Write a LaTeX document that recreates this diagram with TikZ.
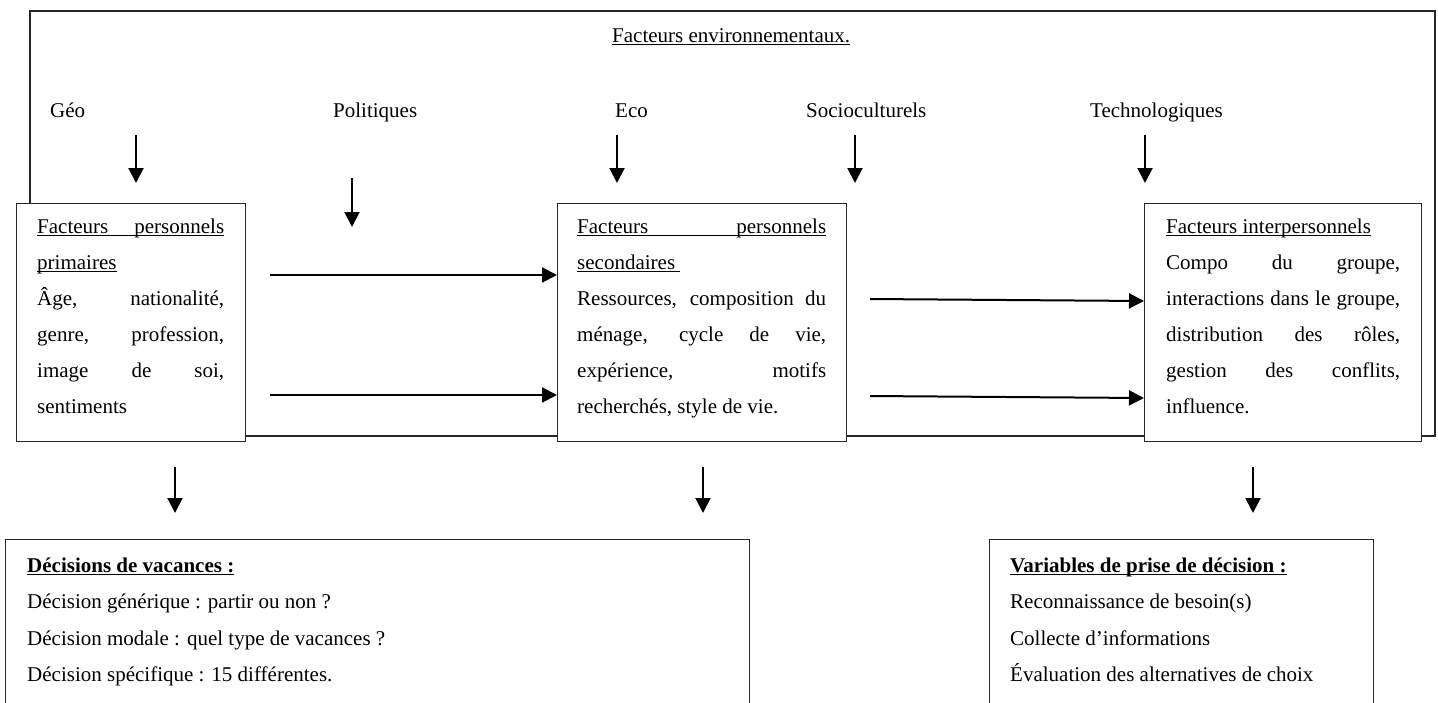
\documentclass[tikz,border=0pt]{standalone}
\usepackage{fontspec}
\setmainfont{Liberation Serif}
\usetikzlibrary{arrows.meta}
\newcommand\myul[1]{\leavevmode\setbox0\hbox{#1}\rlap{\rule[-3.2pt]{\wd0}{1.1pt}}\box0}
\newcommand\jl[1]{\makebox[\linewidth][s]{#1}}
\newcommand\bodyfont{\fontsize{21}{36}\selectfont}
\begin{document}
\begin{tikzpicture}[x=1pt,y=-1pt,
  boxst/.style={draw=black!85, line width=1.2pt, fill=white, inner sep=0pt, anchor=north west},
  arr/.style={-{Triangle[width=15pt,length=15pt]}, line width=2pt},
  txt/.style={anchor=base west, inner sep=0pt, font=\bodyfont}]
\useasboundingbox (0,0) rectangle (1438,702);
\clip (0,0) rectangle (1438,702);

% environment frame
\draw[draw=black!85, line width=1.2pt] (30,11) rectangle (1435,436);

\node[txt] (ET) at (612,42) {\myul{Facteurs environnementaux.}};
\node[txt] (Lgeo) at (50,117) {Géo};
\node[txt] (Lpol) at (333,117) {Politiques};
\node[txt] (Leco) at (615,117) {Eco};
\node[txt] (Lsoc) at (806,117) {Socioculturels};
\node[txt] (Ltec) at (1090,117) {Technologiques};

% boxes
\node[boxst, minimum width=229pt, minimum height=238pt] (B1) at (16,203) {};
\node[boxst, minimum width=289pt, minimum height=238pt] (B2) at (557,203) {};
\node[boxst, minimum width=277pt, minimum height=238pt] (B3) at (1144,203) {};

\node[txt] (T1) at (37,233) {\parbox[t]{187pt}{\bodyfont
\myul{\jl{Facteurs personnels}}\\
\myul{primaires}\\
\jl{Âge, nationalité,}\\
\jl{genre, profession,}\\
\jl{image de soi,}\\
sentiments}};

\node[txt] (T2) at (577,233) {\parbox[t]{249pt}{\bodyfont
\myul{\jl{Facteurs personnels}}\\
\myul{secondaires\ }\\
\jl{Ressources, composition du}\\
\jl{ménage, cycle de vie,}\\
\jl{expérience, motifs}\\
recherchés, style de vie.}};

\node[txt] (T3) at (1166,233) {\parbox[t]{234pt}{\bodyfont
\myul{Facteurs interpersonnels}\\
\jl{Compo du groupe,}\\
\jl{interactions dans le groupe,}\\
\jl{distribution des rôles,}\\
\jl{gestion des conflits,}\\
influence.}};

% bottom boxes
\node[boxst, minimum width=744pt, minimum height=200pt] (D1) at (5,539) {};
\node[boxst, minimum width=384pt, minimum height=200pt] (D2) at (989,539) {};

\node[txt] (TD1) at (27,572) {\parbox[t]{700pt}{\fontsize{21}{36.5}\selectfont
\textbf{\myul{Décisions de vacances :}}\\
Décision générique : partir ou non ?\\
Décision modale : quel type de vacances ?\\
Décision spécifique : 15 différentes.}};

\node[txt] (TD2) at (1010,572) {\parbox[t]{350pt}{\fontsize{21}{36.5}\selectfont
\textbf{\myul{Variables de prise de décision :}}\\
Reconnaissance de besoin(s)\\
Collecte d’informations\\
Évaluation des alternatives de choix}};

% vertical arrows from environment factors
\coordinate (ageo) at (136,135);
\coordinate (apol) at (352,178);
\coordinate (aeco) at (617,135);
\coordinate (asoc) at (855,135);
\coordinate (atec) at (1145,135);
\draw[arr] (ageo) -- ++(0,48);
\draw[arr] (apol) -- ++(0,49);
\draw[arr] (aeco) -- ++(0,48);
\draw[arr] (asoc) -- ++(0,48);
\draw[arr] (atec) -- ++(0,48);

% horizontal arrows
\coordinate (h1) at (270,275);
\coordinate (h2) at (270,395);
\coordinate (h3) at (870,299);
\coordinate (h4) at (870,396);
\draw[arr] (h1) -- (h1 -| B2.west);
\draw[arr] (h2) -- (h2 -| B2.west);
\draw[arr] (h3) -- ([yshift=-2pt]h3 -| B3.west);
\draw[arr] (h4) -- ([yshift=-2pt]h4 -| B3.west);

% bottom arrows
\coordinate (v1) at (175,467);
\coordinate (v2) at (703,467);
\coordinate (v3) at (1253,467);
\draw[arr] (v1) -- ++(0,46);
\draw[arr] (v2) -- ++(0,46);
\draw[arr] (v3) -- ++(0,46);
\end{tikzpicture}
\end{document}
